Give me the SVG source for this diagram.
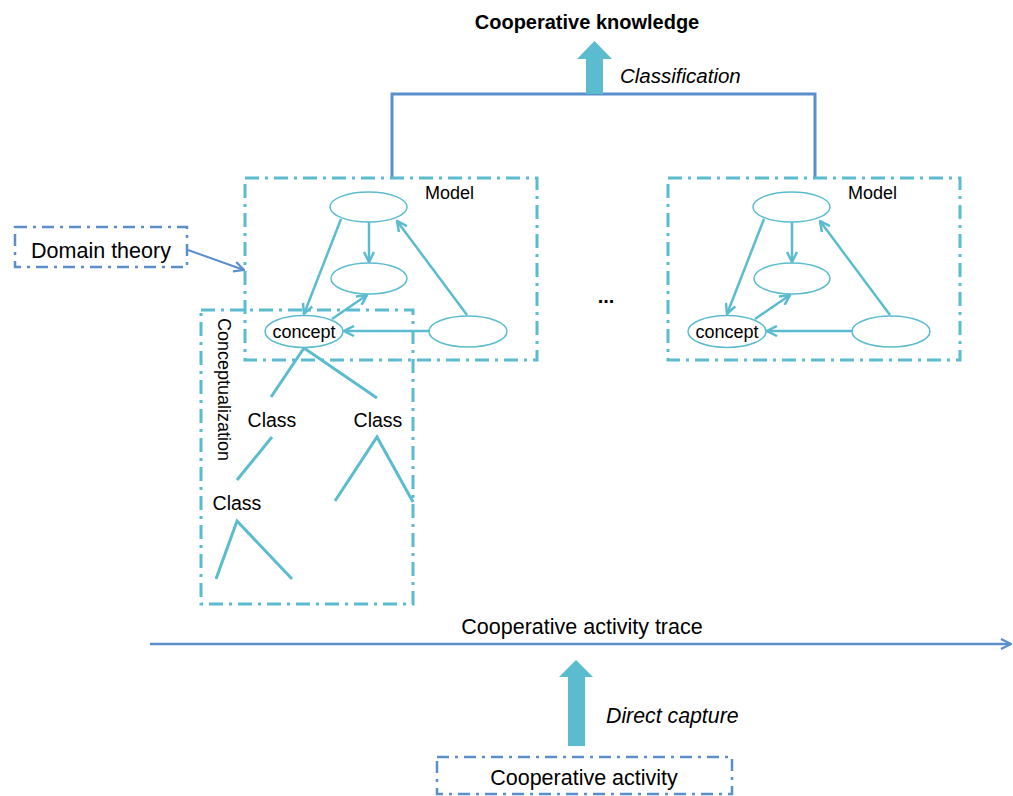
<svg xmlns="http://www.w3.org/2000/svg" width="1013" height="796" viewBox="0 0 1013 796">
<style>
text{font-family:"Liberation Sans",Arial,sans-serif;fill:#000}
.box{fill:none;stroke:#5bbcd0;stroke-width:3;stroke-dasharray:14 6 3 6}
.bbox{fill:none;stroke:#5b8fcb;stroke-width:2.5;stroke-dasharray:12 6 3 6}
.ell{fill:#fff;stroke:#5bbcd0;stroke-width:1.5}
.edge{stroke:#5bbcd0;stroke-width:2.5;fill:none}
.tree{stroke:#5bbcd0;stroke-width:3;fill:none}
.blue{stroke:#5b8fcb;stroke-width:3;fill:none}
.blk{fill:#5bbcd0}
</style>
<defs>
<marker id="ah" viewBox="0 0 12 12" refX="11" refY="6" markerWidth="12" markerHeight="12" markerUnits="userSpaceOnUse" orient="auto">
<path d="M1,1 L11,6 L1,11" fill="none" stroke="#5bbcd0" stroke-width="2.5"/>
</marker>
<marker id="bh" viewBox="0 0 12 12" refX="11" refY="6" markerWidth="12" markerHeight="12" markerUnits="userSpaceOnUse" orient="auto">
<path d="M1,1 L11,6 L1,11" fill="none" stroke="#5b8fcb" stroke-width="2.2"/>
</marker>
<g id="modelShape">
<rect class="box" x="245" y="178" width="292" height="182"/>
<text x="425" y="199" font-size="18">Model</text>
<line class="edge" x1="369" y1="222" x2="369" y2="262" marker-end="url(#ah)"/>
<line class="edge" x1="341" y1="219" x2="304" y2="314" marker-end="url(#ah)"/>
<line class="edge" x1="332" y1="319" x2="367" y2="295" marker-end="url(#ah)"/>
<line class="edge" x1="429" y1="331" x2="344" y2="331" marker-end="url(#ah)"/>
<line class="edge" x1="467" y1="315" x2="397" y2="221" marker-end="url(#ah)"/>
<ellipse class="ell" cx="368.5" cy="207" rx="38.5" ry="15"/>
<ellipse class="ell" cx="369" cy="278.5" rx="38" ry="15.5"/>
<ellipse class="ell" cx="468" cy="331.5" rx="39" ry="15.5"/>
<ellipse class="ell" cx="304" cy="331.5" rx="39" ry="16"/>
<text x="304" y="338" font-size="18" text-anchor="middle">concept</text>
</g>
</defs>

<g id="connectors">
<polyline class="blue" points="392,178 392,94 815,94 815,178"/>
<line x1="188" y1="250" x2="244" y2="270" stroke="#5b8fcb" stroke-width="2" marker-end="url(#bh)"/>
<line x1="150" y1="644" x2="1011" y2="644" stroke="#5b8fcb" stroke-width="2.5" marker-end="url(#bh)"/>
<polygon class="blk" points="586,94 603,94 603,59 612,59 594.5,41 577,59 586,59"/>
<polygon class="blk" points="568,746 585,746 585,677 593,677 576,660 559,677 568,677"/>
</g>

<g id="title">
<text x="587" y="29" font-size="20" font-weight="bold" text-anchor="middle">Cooperative knowledge</text>
<text x="620" y="83" font-size="20.5" font-style="italic">Classification</text>
</g>

<g id="conceptualization">
<rect class="box" x="201" y="310" width="212" height="294"/>
<text transform="translate(218,318) rotate(90)" font-size="18">Conceptualization</text>
<polyline class="tree" points="271,397 304,348 377,398"/>
<text x="272" y="427" font-size="19.5" text-anchor="middle">Class</text>
<text x="378" y="427" font-size="19.5" text-anchor="middle">Class</text>
<line class="tree" x1="272" y1="437" x2="237" y2="480"/>
<polyline class="tree" points="335,501 377,437 413,502"/>
<text x="237" y="510" font-size="19.5" text-anchor="middle">Class</text>
<polyline class="tree" points="216,579 237,521 292,579"/>
</g>

<g id="model1">
<use href="#modelShape"/>
</g>

<g id="model2">
<use href="#modelShape" transform="translate(423,0)"/>
</g>

<g id="ellipsis">
<text x="606" y="303" font-size="20" font-weight="bold" text-anchor="middle">...</text>
</g>

<g id="domain-theory">
<rect class="bbox" x="15" y="227" width="172" height="40"/>
<text x="101" y="258" font-size="21.5" text-anchor="middle">Domain theory</text>
</g>

<g id="trace">
<text x="582" y="634" font-size="21.5" text-anchor="middle">Cooperative activity trace</text>
<text x="606" y="723" font-size="21.3" font-style="italic">Direct capture</text>
</g>

<g id="cooperative-activity">
<rect class="bbox" x="437" y="757" width="295" height="37"/>
<text x="584" y="785" font-size="21.5" text-anchor="middle">Cooperative activity</text>
</g>
</svg>
